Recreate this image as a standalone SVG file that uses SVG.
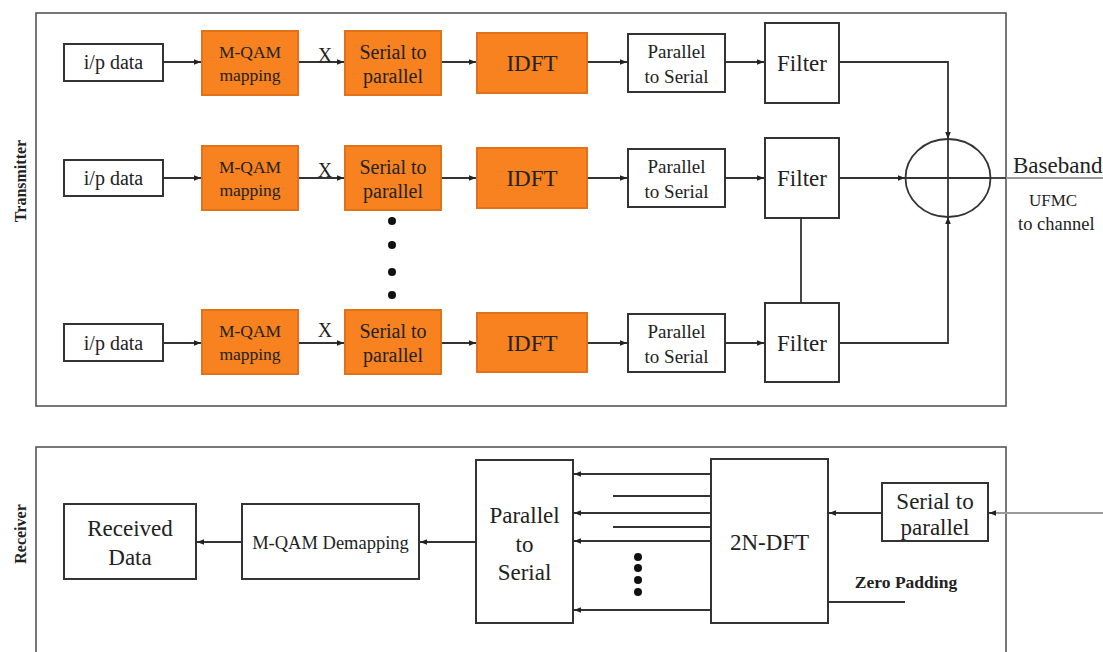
<svg xmlns="http://www.w3.org/2000/svg" width="1103" height="652" viewBox="0 0 1103 652">
<defs>
<marker id="ah" viewBox="0 0 10 10" refX="10" refY="5" markerWidth="7" markerHeight="7" markerUnits="userSpaceOnUse" orient="auto">
<path d="M0,1 L10,5 L0,9 z" fill="#222"/>
</marker>
</defs>
<style>
text{font-family:"Liberation Serif","Times New Roman",serif;fill:#222;text-anchor:middle;dominant-baseline:central}
.frame{fill:none;stroke:#555;stroke-width:1.6}
.box{fill:#fff;stroke:#333;stroke-width:2}
.org{fill:#F7821F;stroke:#E2721A;stroke-width:2}
.ln{fill:none;stroke:#333;stroke-width:1.8}
.arr{fill:none;stroke:#333;stroke-width:1.8;marker-end:url(#ah)}
.dot{fill:#111}
.lbl{font-weight:bold;font-size:16px}
</style>

<!-- frames -->
<g id="transmitter-frame">
<rect class="frame" x="36" y="13" width="970" height="393"/>
<text class="lbl" transform="translate(20,181) rotate(-90)">Transmitter</text>
</g>
<g id="receiver-frame">
<rect class="frame" x="36" y="447" width="970" height="230"/>
<text class="lbl" transform="translate(20,534) rotate(-90)">Receiver</text>
</g>

<!-- connectors -->
<g id="connectors">
<!-- row 1 -->
<line class="arr" x1="163" y1="62" x2="201" y2="62"/>
<line class="arr" x1="298" y1="62" x2="344" y2="62"/>
<line class="arr" x1="441" y1="62" x2="476" y2="62"/>
<line class="arr" x1="587" y1="62" x2="627" y2="62"/>
<line class="arr" x1="725" y1="62" x2="764" y2="62"/>
<polyline class="arr" points="839,62 948,62 948,139"/>
<!-- row 2 -->
<line class="arr" x1="163" y1="178" x2="201" y2="178"/>
<line class="arr" x1="298" y1="178" x2="344" y2="178"/>
<line class="arr" x1="441" y1="178" x2="476" y2="178"/>
<line class="arr" x1="587" y1="178" x2="627" y2="178"/>
<line class="arr" x1="725" y1="178" x2="764" y2="178"/>
<line class="arr" x1="839" y1="178" x2="905" y2="178"/>
<!-- row 3 -->
<line class="arr" x1="163" y1="343" x2="201" y2="343"/>
<line class="arr" x1="298" y1="343" x2="344" y2="343"/>
<line class="arr" x1="441" y1="343" x2="476" y2="343"/>
<line class="arr" x1="587" y1="343" x2="627" y2="343"/>
<line class="arr" x1="725" y1="343" x2="764" y2="343"/>
<polyline class="arr" points="839,343 948,343 948,217"/>
<!-- filter link -->
<line class="ln" x1="801" y1="218" x2="801" y2="303"/>
<!-- output -->
<line class="ln" x1="990" y1="178" x2="1006" y2="178"/>
<line x1="1006" y1="178" x2="1103" y2="178" stroke="#9a9a9a" stroke-width="1.8"/>
<!-- receiver -->
<line x1="1103" y1="513" x2="996" y2="513" stroke="#9a9a9a" stroke-width="1.8"/>
<line class="arr" x1="996" y1="513" x2="989" y2="513"/>
<line class="arr" x1="882" y1="513" x2="829" y2="513"/>
<line class="arr" x1="711" y1="474" x2="574" y2="474"/>
<line class="ln" x1="613" y1="496" x2="711" y2="496"/>
<line class="arr" x1="711" y1="513" x2="574" y2="513"/>
<line class="ln" x1="613" y1="527" x2="711" y2="527"/>
<line class="arr" x1="711" y1="541" x2="574" y2="541"/>
<line class="arr" x1="711" y1="610" x2="574" y2="610"/>
<line class="ln" x1="828" y1="602" x2="905" y2="602"/>
<line class="arr" x1="476" y1="542" x2="420" y2="542"/>
<line class="arr" x1="242" y1="542" x2="197" y2="542"/>
</g>

<!-- X labels and dots -->
<g id="annotations">
<text x="325" y="55" font-size="20">X</text>
<text x="325" y="170" font-size="20">X</text>
<text x="325" y="330" font-size="20">X</text>
<circle class="dot" cx="392" cy="221" r="4"/>
<circle class="dot" cx="392" cy="245" r="4"/>
<circle class="dot" cx="392" cy="272" r="4"/>
<circle class="dot" cx="392" cy="295" r="4"/>
<circle class="dot" cx="638" cy="557" r="4"/>
<circle class="dot" cx="638" cy="568" r="4"/>
<circle class="dot" cx="638" cy="580" r="4"/>
<circle class="dot" cx="638" cy="592" r="4"/>
</g>

<!-- Transmitter row 1 -->
<g id="ip1"><rect class="box" x="64" y="44" width="99" height="37"/><text x="113.5" y="62" font-size="20">i/p data</text></g>
<g id="mqam1"><rect class="org" x="202" y="31" width="96" height="64"/><text x="250" y="52" font-size="17.5">M-QAM</text><text x="250" y="75" font-size="17.5">mapping</text></g>
<g id="sp1"><rect class="org" x="345" y="31" width="96" height="64"/><text x="393" y="52" font-size="20">Serial to</text><text x="393" y="76" font-size="20">parallel</text></g>
<g id="idft1"><rect class="org" x="477" y="33" width="110" height="60"/><text x="532" y="63" font-size="23">IDFT</text></g>
<g id="ps1"><rect class="box" x="628" y="34" width="97" height="58"/><text x="676.5" y="51" font-size="19">Parallel</text><text x="676.5" y="76" font-size="19">to Serial</text></g>
<g id="filter1"><rect class="box" x="765" y="23" width="74" height="80"/><text x="802" y="63" font-size="23">Filter</text></g>

<!-- Transmitter row 2 -->
<g id="ip2"><rect class="box" x="64" y="160" width="99" height="36"/><text x="113.5" y="178" font-size="20">i/p data</text></g>
<g id="mqam2"><rect class="org" x="202" y="146" width="96" height="64"/><text x="250" y="167" font-size="17.5">M-QAM</text><text x="250" y="190" font-size="17.5">mapping</text></g>
<g id="sp2"><rect class="org" x="345" y="146" width="96" height="64"/><text x="393" y="167" font-size="20">Serial to</text><text x="393" y="191" font-size="20">parallel</text></g>
<g id="idft2"><rect class="org" x="477" y="148" width="110" height="60"/><text x="532" y="178" font-size="23">IDFT</text></g>
<g id="ps2"><rect class="box" x="628" y="149" width="97" height="58"/><text x="676.5" y="166" font-size="19">Parallel</text><text x="676.5" y="191" font-size="19">to Serial</text></g>
<g id="filter2"><rect class="box" x="765" y="138" width="74" height="80"/><text x="802" y="178" font-size="23">Filter</text></g>

<!-- Transmitter row 3 -->
<g id="ip3"><rect class="box" x="64" y="324" width="99" height="37"/><text x="113.5" y="343" font-size="20">i/p data</text></g>
<g id="mqam3"><rect class="org" x="202" y="310" width="96" height="64"/><text x="250" y="331" font-size="17.5">M-QAM</text><text x="250" y="354" font-size="17.5">mapping</text></g>
<g id="sp3"><rect class="org" x="345" y="310" width="96" height="64"/><text x="393" y="331" font-size="20">Serial to</text><text x="393" y="355" font-size="20">parallel</text></g>
<g id="idft3"><rect class="org" x="477" y="313" width="110" height="59"/><text x="532" y="343" font-size="23">IDFT</text></g>
<g id="ps3"><rect class="box" x="628" y="314" width="97" height="58"/><text x="676.5" y="331" font-size="19">Parallel</text><text x="676.5" y="356" font-size="19">to Serial</text></g>
<g id="filter3"><rect class="box" x="765" y="303" width="74" height="79"/><text x="802" y="343" font-size="23">Filter</text></g>

<!-- Summer -->
<g id="summer">
<ellipse cx="948" cy="178" rx="42.5" ry="39" fill="none" stroke="#333" stroke-width="1.8"/>
<line class="ln" x1="948" y1="139" x2="948" y2="217"/>
<line class="ln" x1="905" y1="178" x2="990" y2="178"/>
</g>
<g id="output-label">
<text x="1013" y="165" font-size="23" style="text-anchor:start">Baseband</text>
<text x="1053" y="200" font-size="17">UFMC</text>
<text x="1018" y="224" font-size="18.5" style="text-anchor:start">to channel</text>
</g>

<!-- Receiver -->
<g id="received"><rect class="box" x="64" y="504" width="132" height="75"/><text x="130" y="528" font-size="23">Received</text><text x="130" y="557" font-size="23">Data</text></g>
<g id="demap"><rect class="box" x="242" y="504" width="177" height="75"/><text x="330.5" y="543" font-size="18.5">M-QAM Demapping</text></g>
<g id="ps-rx"><rect class="box" x="476" y="460" width="97" height="163"/><text x="524.5" y="515" font-size="23">Parallel</text><text x="524.5" y="544" font-size="23">to</text><text x="524.5" y="572" font-size="23">Serial</text></g>
<g id="dft"><rect class="box" x="711" y="459" width="117" height="164"/><text x="769.5" y="542" font-size="23">2N-DFT</text></g>
<g id="sp-rx"><rect class="box" x="882" y="483" width="106" height="58"/><text x="935" y="501" font-size="23">Serial to</text><text x="935" y="527" font-size="23">parallel</text></g>
<g id="zero-padding"><text x="906" y="582" font-size="17.5" font-weight="bold">Zero Padding</text></g>
</svg>
